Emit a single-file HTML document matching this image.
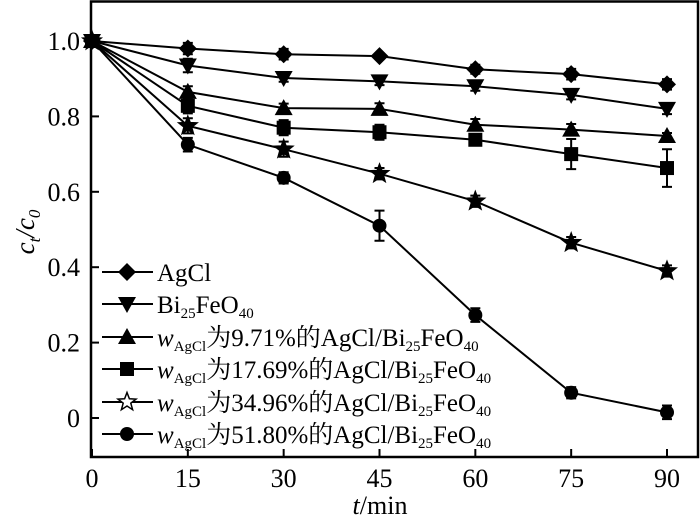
<!DOCTYPE html>
<html><head><meta charset="utf-8"><style>
body{margin:0;background:#fff}
svg{display:block;font-family:"Liberation Serif","Noto Serif CJK SC",serif}
</style></head><body>
<svg width="700" height="516" viewBox="0 0 700 516" xmlns="http://www.w3.org/2000/svg">
<g id="plot"></g>
</svg>
<script>
const times=[0,15,30,45,60,75,90];
const xTicks=[0,15,30,45,60,75,90];
const yTicks=[0,0.2,0.4,0.6,0.8,1.0];
const yTickLabels=["0","0.2","0.4","0.6","0.8","1.0"];
const sAgCl=[1,0.98,0.965,0.96,0.925,0.912,0.885];
const sBi=[1,0.935,0.902,0.893,0.88,0.857,0.82];
const s971=[1,0.865,0.822,0.82,0.778,0.765,0.748];
const s1769=[1,0.828,0.77,0.758,0.738,0.70,0.663];
const s3496=[1,0.775,0.713,0.648,0.575,0.465,0.39];
const s5180=[1,0.725,0.637,0.51,0.273,0.067,0.015];
const eAgCl=[0.008,0.015,0.014,0.008,0.012,0.014,0.014];
const eBi=[0.008,0.018,0.01,0.01,0.012,0.012,0.014];
const e971=[0.008,0.015,0.012,0.015,0.015,0.015,0.008];
const e1769=[0.008,0.02,0.02,0.02,0.012,0.04,0.05];
const e3496=[0.008,0.02,0.02,0.015,0.015,0.015,0.015];
const e5180=[0.008,0.018,0.015,0.04,0.018,0.015,0.018];
const seriesNames=["agcl","bi25feo40","w-9-71","w-17-69","w-34-96","w-51-80"];
const seriesVals=[sAgCl,sBi,s971,s1769,s3496,s5180];
const seriesErr=[eAgCl,eBi,e971,e1769,e3496,e5180];
const markers=["diamond","down","up","square","star","circle"];
const legendPct=[null,null,"9.71","17.69","34.96","51.80"];

const NS="http://www.w3.org/2000/svg";
const g=document.getElementById('plot');
const X=t=>92+t*(667-92)/90;
const Y=v=>418-v*377;
function mk(tag,attrs,parent){const e=document.createElementNS(NS,tag);for(const k in attrs)e.setAttribute(k,attrs[k]);(parent||g).appendChild(e);return e;}

function marker(type,x,y,parent,hollow){
  let e;
  if(type==="diamond") e=mk('polygon',{points:`${x},${y-9} ${x+9},${y} ${x},${y+9} ${x-9},${y}`,fill:'#000'},parent);
  else if(type==="down") e=mk('polygon',{points:`${x-9},${y-7} ${x+9},${y-7} ${x},${y+9}`,fill:'#000'},parent);
  else if(type==="up") e=mk('polygon',{points:`${x-9},${y+7} ${x+9},${y+7} ${x},${y-9}`,fill:'#000'},parent);
  else if(type==="square") e=mk('rect',{x:x-7,y:y-7,width:14,height:14,fill:'#000'},parent);
  else if(type==="circle") e=mk('circle',{cx:x,cy:y,r:7,fill:'#000'},parent);
  else {
    let p=[];for(let i=0;i<10;i++){const r=i%2?4:9.5;const a=-Math.PI/2+i*Math.PI/5;p.push((x+r*Math.cos(a)).toFixed(1)+','+(y+r*Math.sin(a)).toFixed(1));}
    e=mk('polygon',{points:p.join(' '),fill:hollow?'#fff':'#000',stroke:'#000','stroke-width':1.5},parent);
  }
  return e;
}

const fr=mk('rect',{x:91,y:1.5,width:607,height:455.5,fill:'none',stroke:'#000','stroke-width':2.5});


xTicks.forEach(t=>{
  const l=mk('line',{x1:X(t),x2:X(t),y1:457,y2:449,stroke:'#000','stroke-width':2});
  
  const tx=mk('text',{x:X(t),y:487,'text-anchor':'middle','font-size':26});
  tx.textContent=t;
});
yTicks.forEach((v,i)=>{
  const l=mk('line',{x1:91,x2:99,y1:Y(v),y2:Y(v),stroke:'#000','stroke-width':2});
  
  const tx=mk('text',{x:80,y:Y(v)+9,'text-anchor':'end','font-size':26});
  tx.textContent=yTickLabels[i];
});
const xt=mk('text',{x:380,y:514,'text-anchor':'middle','font-size':26});
xt.innerHTML='<tspan font-style="italic">t</tspan>/min';

const yt=mk('text',{transform:'translate(34,232) rotate(-90)','text-anchor':'middle','font-size':27,'font-style':'italic'});
yt.innerHTML='c<tspan font-size="17" dy="6">t</tspan><tspan dy="-6">/c</tspan><tspan font-size="17" dy="6">0</tspan>';


seriesVals.forEach((vals,si)=>{
  const sg=mk('g',{});
  
  const pl=mk('polyline',{points:vals.map((v,i)=>X(times[i])+','+Y(v)).join(' '),fill:'none',stroke:'#000','stroke-width':2},sg);
  
  vals.forEach((v,i)=>{
    const x=X(times[i]),e=seriesErr[si][i];
    const eb=mk('path',{d:`M${x},${Y(v+e)}V${Y(v-e)}M${x-5},${Y(v+e)}H${x+5}M${x-5},${Y(v-e)}H${x+5}`,stroke:'#000','stroke-width':2,fill:'none'},sg);
    
    const m=marker(markers[si],x,Y(v),sg,false);
    
  });
});

const lg=mk('g',{});

const legY=[272,304,337,369,402,434];
seriesNames.forEach((n,i)=>{
  const y=legY[i];
  const eg=mk('g',{},lg);
  
  mk('line',{x1:102,x2:153,y1:y,y2:y,stroke:'#000','stroke-width':2},eg);
  marker(markers[i],127,y,eg,true);
  const t=mk('text',{x:157,y:y+9,'font-size':25},eg);
  if(i===0) t.innerHTML='AgCl';
  else if(i===1) t.innerHTML='Bi<tspan font-size="15" dy="5">25</tspan><tspan dy="-5">FeO</tspan><tspan font-size="15" dy="5">40</tspan>';
  else t.innerHTML='<tspan font-style="italic">w</tspan><tspan font-size="15" dy="5">AgCl</tspan><tspan dy="-5">为'+legendPct[i]+'%的AgCl/Bi</tspan><tspan font-size="15" dy="5">25</tspan><tspan dy="-5">FeO</tspan><tspan font-size="15" dy="5">40</tspan>';
});
</script>
</body></html>
